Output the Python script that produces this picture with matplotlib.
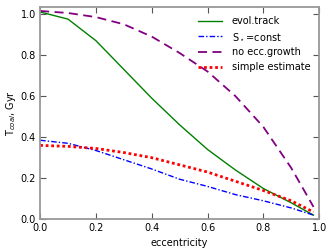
import matplotlib
matplotlib.use("Agg")
import matplotlib.pyplot as plt
import numpy as np

ecc = [0.0, 0.1, 0.2, 0.3, 0.4, 0.5, 0.6, 0.7, 0.8, 0.9, 0.98]
evol_track = [1.01, 0.975, 0.87, 0.73, 0.59, 0.46, 0.34, 0.24, 0.15, 0.08, 0.02]
s_const = [0.385, 0.37, 0.335, 0.29, 0.245, 0.195, 0.16, 0.12, 0.09, 0.055, 0.02]
no_ecc = [1.015, 1.005, 0.985, 0.95, 0.89, 0.81, 0.72, 0.60, 0.45, 0.25, 0.06]
simple = [0.36, 0.355, 0.345, 0.325, 0.30, 0.265, 0.23, 0.185, 0.14, 0.09, 0.035]

plt.rcParams['font.size'] = 7

fig = plt.figure(figsize=(3.29, 2.5), dpi=100)
ax = fig.add_axes([0.122, 0.123, 0.848, 0.848])

ax.plot(ecc, evol_track, color='green', lw=1.0, label='evol.track')
ax.plot(ecc, s_const, color='blue', lw=1.0, ls=(0, (4, 1.5, 1, 1.5)), label=r'S$_\star$=const')
ax.plot(ecc, no_ecc, color='purple', lw=1.3, ls=(0, (5, 3)), label='no ecc.growth')
ax.plot(ecc, simple, color='red', lw=2.0, ls=(0, (1, 1)), label='simple estimate')

ax.set_xlim(0, 1.0)
ax.set_ylim(0, 1.033)
ax.set_xticks(np.arange(0, 1.01, 0.2))
ax.set_yticks(np.arange(0, 1.01, 0.2))
ax.set_xlabel('eccentricity', labelpad=3)
ax.set_ylabel(r'T$_{coal}$, Gyr', labelpad=2)

for s in ax.spines.values():
    s.set_color('#999999')
    s.set_linewidth(1.3)
ax.tick_params(direction='in', top=True, right=True, length=4, width=0.8,
               color='#555555', pad=3)

ax.legend(loc='upper right', frameon=False, fontsize=7, handlelength=2.5,
          handletextpad=1.0, labelspacing=0.5, borderaxespad=0.5)

fig.savefig('out.png', dpi=100)
